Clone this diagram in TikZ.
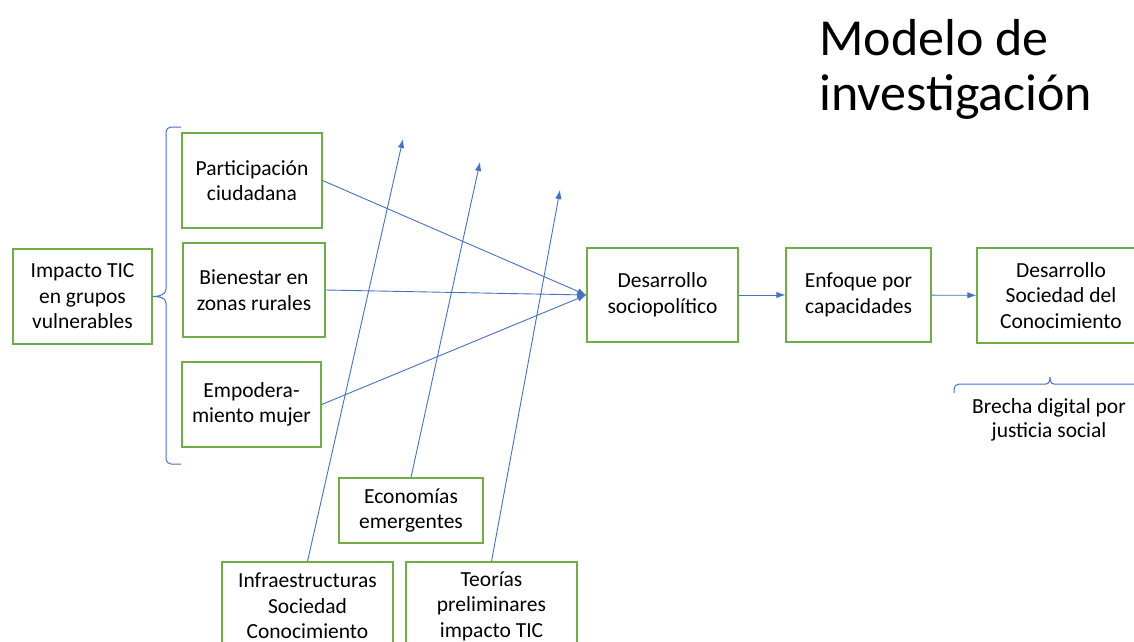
\documentclass[tikz,border=0pt]{standalone}
\usepackage{fontspec}
\setmainfont{Carlito}
\usetikzlibrary{arrows.meta}
\definecolor{boxgreen}{HTML}{70AD47}
\definecolor{lineblue}{HTML}{4472C4}
\begin{document}
\begin{tikzpicture}[x=1pt,y=-1pt,
 box/.style={draw=boxgreen,line width=1.3pt,align=center,inner sep=0pt,font=\fontsize{21.5}{25.5}\selectfont},
 conn/.style={draw=lineblue,line width=0.9pt,-{Latex[length=9pt,width=6.5pt]}},
 brk/.style={draw=lineblue,line width=1pt},
 lbl/.style={align=center,inner sep=0pt,font=\fontsize{21.5}{24}\selectfont},
 ttl/.style={anchor=base west,inner sep=0pt,font=\fontsize{52}{55}\selectfont}]
\useasboundingbox (0,0) rectangle (1134,641);
\fill[white] (0,0) rectangle (1134,641);
\begin{scope}
\clip (0,0) rectangle (1134,641);
% title
\node[ttl] (title1) at (819,55) {Modelo de};
\node[ttl] (title2) at (819,110) {investigación};
% boxes
\node[box,minimum width=139pt,minimum height=95pt] (impacto) at (82.5,296.5) {Impacto TIC\\en grupos\\vulnerables};
\node[box,minimum width=140pt,minimum height=95pt] (part) at (252,180.5) {Participación\\ciudadana};
\node[box,minimum width=142pt,minimum height=94pt] (bien) at (254,290) {Bienestar en\\zonas rurales};
\node[box,minimum width=139pt,minimum height=85pt] (empo) at (251.5,404.5) {Empodera-\\miento mujer};
\node[box,minimum width=151pt,minimum height=94pt] (desa) at (662.5,295) {Desarrollo\\sociopolítico};
\node[box,minimum width=145pt,minimum height=94pt] (enfo) at (858.5,295) {Enfoque por\\capacidades};
\node[box,minimum width=168pt,minimum height=95pt] (dsc) at (1061,295.5) {Desarrollo\\Sociedad del\\Conocimiento};
\node[box,minimum width=144pt,minimum height=65pt] (econ) at (411,510.5) {Economías\\emergentes};
\node[box,minimum width=171pt,minimum height=88pt] (infra) at (307.5,606) {Infraestructuras\\Sociedad\\Conocimiento};
\node[box,minimum width=171pt,minimum height=88pt] (teor) at (491.5,606) {Teorías\\preliminares\\impacto TIC};
% left brace
\coordinate (btop) at (181,127);
\coordinate (bbot) at (181,464);
\draw[brk] (btop) -- (171,127) to[out=180,in=90] (166,132) -- (166,289)
  to[out=-90,in=0] (impacto.east) to[out=0,in=90] (166,303) -- (166,459)
  to[out=-90,in=180] (171,464) -- (bbot);
% right brace
\coordinate (rtip) at (1050,377);
\coordinate (rleft) at (954,393);
\coordinate (rright) at (1140,384);
\draw[brk] (rleft) -- (954,389) to[out=90,in=180] (959,384) -- (1046,384)
  to[out=0,in=-90] (rtip) to[out=-90,in=180] (1054,384) -- (rright);
\node[lbl] (brecha) at (1049,420) {Brecha digital por\\justicia social};
% connectors
\draw[conn] (part.east) -- (desa.west);
\draw[conn] (bien.east) -- (desa.west);
\draw[conn] (empo.east) -- (desa.west);
\draw[conn] (desa) -- (enfo);
\draw[conn] (enfo) -- (dsc);
\coordinate (t1) at (403,139);
\coordinate (t2) at (480,162);
\coordinate (t3) at (560,190);
\draw[conn] (infra.north) -- (t1);
\draw[conn] (econ.north) -- (t2);
\draw[conn] (teor.north) -- (t3);
\end{scope}
\end{tikzpicture}
\end{document}
